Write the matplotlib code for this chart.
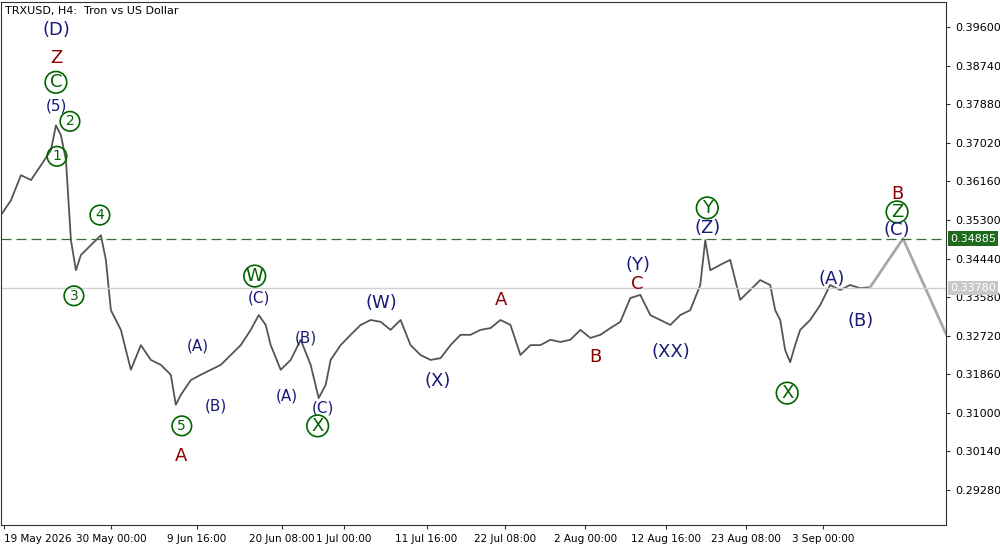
import matplotlib
matplotlib.use("Agg")
import matplotlib.pyplot as plt

# time axis in chart units (H4 bars scaled), price values
t = [0,10,20,30,40,50,55,60,65,70,75,80,90,100,105,110,120,130,140,150,160,170,175,180,190,200,210,220,230,240,250,258,265,270,280,290,300,310,318,325,330,340,350,360,370,380,390,400,410,420,430,440,450,460,470,480,490,500,510,520,530,540,550,560,570,580,590,600,610,620,630,640,650,660,670,680,690,700,705,710,720,730,740,750,760,770,775,780,785,790,795,800,810,820,830,840,850,860,870]
price = [0.3541,0.3574,0.3630,0.3619,0.3652,0.3686,0.3741,0.3719,0.3664,0.3485,0.3418,0.3452,0.3474,0.3496,0.3441,0.3329,0.3285,0.3196,0.3251,0.3218,0.3207,0.3185,0.3118,0.3140,0.3173,0.3185,0.3196,0.3207,0.3229,0.3251,0.3285,0.3318,0.3296,0.3251,0.3196,0.3218,0.3263,0.3207,0.3133,0.3162,0.3218,0.3251,0.3274,0.3296,0.3307,0.3303,0.3285,0.3307,0.3251,0.3229,0.3218,0.3222,0.3251,0.3274,0.3274,0.3285,0.3289,0.3307,0.3296,0.3229,0.3251,0.3251,0.3263,0.3258,0.3263,0.3285,0.3267,0.3274,0.3289,0.3303,0.3356,0.3363,0.3318,0.3307,0.3296,0.3318,0.3329,0.3385,0.3485,0.3418,0.3430,0.3441,0.3352,0.3374,0.3396,0.3385,0.3329,0.3307,0.3240,0.3213,0.3251,0.3285,0.3307,0.3340,0.3385,0.3374,0.3385,0.3378,0.3380]
proj_t = [870, 903, 946]
proj_p = [0.3380, 0.34885, 0.3276]

yticks = [0.39600,0.38740,0.37880,0.37020,0.36160,0.35300,0.34440,0.33580,0.32720,0.31860,0.31000,0.30140,0.29280]
xtick_pos = [3,110,196,281,343,426,505,585,666,746,823]
xtick_labels = ["19 May 2026","30 May 00:00","9 Jun 16:00","20 Jun 08:00","1 Jul 00:00","11 Jul 16:00","22 Jul 08:00","2 Aug 00:00","12 Aug 16:00","23 Aug 08:00","3 Sep 00:00"]
level_line = 0.34885
last_price = 0.33780

NAVY, RED, GREEN = "#1a1a7a", "#8b0000", "#006400"
labels = [
    (55,0.3953,"(D)","N"),(55,0.3891,"Z","r"),(55,0.3837,"C","g"),(55,0.3784,"(5)","n"),
    (69,0.3750,"2","g"),(56,0.3672,"1","g"),(99,0.3541,"4","g"),(73,0.3361,"3","g"),
    (181,0.3071,"5","g"),(180,0.3004,"A","r"),(254,0.3405,"W","g"),(258,0.3357,"(C)","n"),
    (197,0.3249,"(A)","n"),(215,0.3116,"(B)","n"),(305,0.3267,"(B)","n"),(286,0.3138,"(A)","n"),
    (322,0.3111,"(C)","n"),(317,0.3071,"X","g"),(381,0.3345,"(W)","N"),(437,0.3171,"(X)","N"),
    (501,0.3352,"A","r"),(595,0.3225,"B","r"),(638,0.3430,"(Y)","N"),(637,0.3387,"C","r"),
    (671,0.3236,"(XX)","N"),(707,0.3557,"Y","g"),(707,0.3512,"(Z)","N"),(832,0.3398,"(A)","N"),
    (861,0.3305,"(B)","N"),(787,0.3144,"X","g"),(897,0.3588,"B","r"),(897,0.3548,"Z","g"),(897,0.3508,"(C)","N"),
]

fig = plt.figure(figsize=(10, 5.45), dpi=100)
ax = fig.add_axes([0.001, 20/545, 0.945, 523/545])
ax.set_xlim(0, 946)
ax.set_ylim(0.2850, 0.4016)
ax.plot(t, price, color="#555555", lw=1.3)
ax.plot(proj_t, proj_p, color="#a8a8a8", lw=2)
ax.axhline(level_line, color="#3d6b3d", lw=0.9, ls=(0, (8, 4)))
ax.axhline(last_price, color="#d0d0d0", lw=1)

for x, y, s, k in labels:
    if k == "g":
        big = s.isalpha()
        ax.text(x, y, s, color=GREEN, fontsize=13 if big else 10, ha="center", va="center",
                bbox=dict(boxstyle="circle,pad=0.1" if big else "circle,pad=0.2", fc="none", ec=GREEN, lw=1.2))
    elif k == "r":
        ax.text(x, y, s, color=RED, fontsize=13, ha="center", va="center")
    elif k == "N":
        ax.text(x, y, s, color=NAVY, fontsize=13, ha="center", va="center")
    else:
        ax.text(x, y, s, color=NAVY, fontsize=11, ha="center", va="center")

ax.yaxis.tick_right()
ax.set_yticks(yticks)
ax.set_yticklabels([f"{v:.5f}" for v in yticks], fontsize=8)
ax.set_xticks(xtick_pos)
ax.set_xticklabels(xtick_labels, fontsize=7.5)
ax.get_xticklabels()[0].set_ha("left")
ax.tick_params(length=3, color="#333333")
for s in ax.spines.values():
    s.set_color("#333333"); s.set_linewidth(0.8)
ax.text(4, 0.3995, "TRXUSD, H4:  Tron vs US Dollar", fontsize=8, va="center")
ax.text(950, level_line, f"{level_line:.5f}", fontsize=8, color="white", va="center", ha="left",
        clip_on=False, bbox=dict(boxstyle="square,pad=0.2", fc="#1e6b1e", ec="none"))
ax.text(950, last_price, f"{last_price:.5f}", fontsize=8, color="white", va="center", ha="left",
        clip_on=False, bbox=dict(boxstyle="square,pad=0.2", fc="#c8c8c8", ec="none"))
fig.savefig("out.png", dpi=100)
